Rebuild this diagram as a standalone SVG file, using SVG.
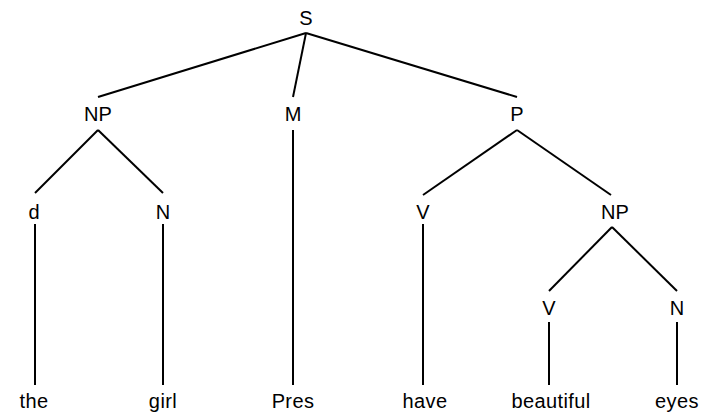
<svg xmlns="http://www.w3.org/2000/svg" width="702" height="412" viewBox="0 0 702 412">
<style>
  text { font-family: "Liberation Sans", Arial, sans-serif; font-size: 20px; fill: #000; text-anchor: middle; }
  .w { letter-spacing: 0.4px; }
  .e line { stroke: #000; stroke-width: 2; stroke-linecap: butt; }
</style>
<rect width="702" height="412" fill="#fff"/>
<g id="connectors" class="e">
  <line x1="306" y1="33" x2="98" y2="97"/>
  <line x1="306" y1="33" x2="293" y2="97"/>
  <line x1="306" y1="33" x2="517" y2="97"/>
  <line x1="98" y1="130" x2="35" y2="193"/>
  <line x1="98" y1="130" x2="163" y2="193"/>
  <line x1="293" y1="130" x2="293" y2="385"/>
  <line x1="517" y1="130" x2="423" y2="195"/>
  <line x1="517" y1="130" x2="611" y2="195"/>
  <line x1="35" y1="224" x2="35" y2="385"/>
  <line x1="163" y1="224" x2="163" y2="385"/>
  <line x1="423" y1="224" x2="423" y2="385"/>
  <line x1="612" y1="227" x2="549" y2="291"/>
  <line x1="612" y1="227" x2="677" y2="291"/>
  <line x1="549" y1="322" x2="549" y2="385"/>
  <line x1="677" y1="322" x2="677" y2="385"/>
</g>
<g id="S"><text x="306" y="25">S</text></g>
<g id="NP1"><text x="98" y="121">NP</text></g>
<g id="M"><text x="293" y="121">M</text></g>
<g id="P"><text x="517" y="121">P</text></g>
<g id="d"><text x="34" y="219">d</text></g>
<g id="N1"><text x="163" y="219">N</text></g>
<g id="V1"><text x="423" y="219">V</text></g>
<g id="NP2"><text x="615" y="219">NP</text></g>
<g id="V2"><text x="549" y="315">V</text></g>
<g id="N2"><text x="677" y="315">N</text></g>
<g id="the"><text class="w" x="34" y="408">the</text></g>
<g id="girl"><text class="w" x="163" y="408">girl</text></g>
<g id="Pres"><text class="w" x="293" y="408">Pres</text></g>
<g id="have"><text class="w" x="425" y="408">have</text></g>
<g id="beautiful"><text class="w" x="551" y="408">beautiful</text></g>
<g id="eyes"><text class="w" x="677" y="408">eyes</text></g>
</svg>
